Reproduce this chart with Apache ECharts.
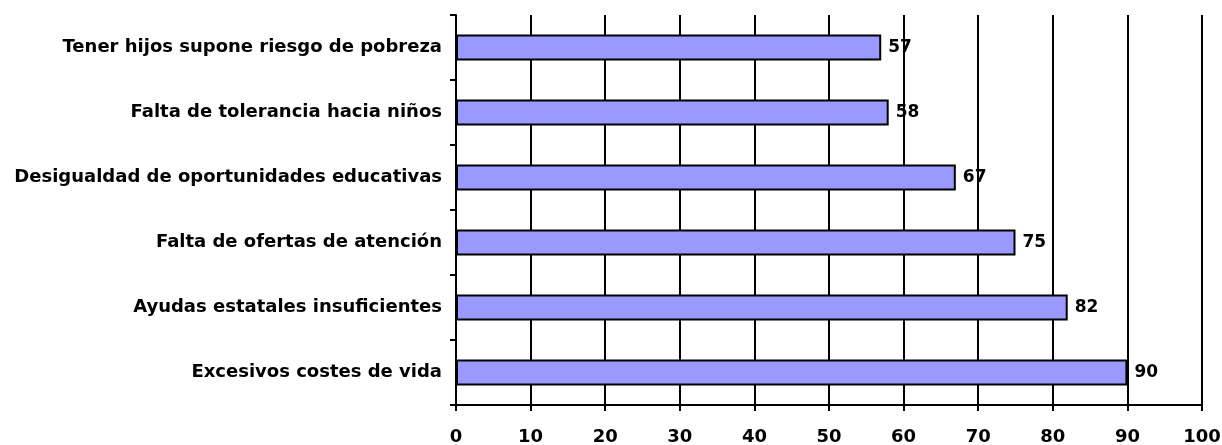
<!DOCTYPE html>
<html>
<head>
<meta charset="utf-8">
<script src="https://cdn.jsdelivr.net/npm/echarts@6/dist/echarts.min.js"></script>
<style>
    html, body { margin: 0; padding: 0; background: #fff; }
    .chart { width: 1222px; height: 445px; }
</style>
</head>
<body>
<div class="chart"></div>
<script>
var categories = ['Excesivos costes de vida', 'Ayudas estatales insuficientes', 'Falta de ofertas de atención',
    'Desigualdad de oportunidades educativas', 'Falta de tolerancia hacia niños', 'Tener hijos supone riesgo de pobreza'];
var values = [90, 82, 75, 67, 58, 57];
var xTicks = { min: 0, max: 100, interval: 10 };

(function () {
    var myChart = echarts.init(document.querySelector('.chart'));
    var font = '"DejaVu Sans", sans-serif';
    var option = {
        animation: false,
        grid: {
            left: 456,
            right: 20,
            top: 15,
            bottom: 40,
            outerBoundsMode: 'none'
        },
        xAxis: {
            type: 'value',
            min: xTicks.min,
            max: xTicks.max,
            interval: xTicks.interval,
            axisLine: {
                show: true,
                lineStyle: { color: '#000', width: 2 }
            },
            axisTick: {
                show: true,
                length: 6,
                lineStyle: { color: '#000', width: 2 }
            },
            axisLabel: {
                color: '#000',
                fontWeight: 'bold',
                fontSize: 18,
                fontFamily: font,
                margin: 23
            },
            splitLine: {
                show: true,
                lineStyle: { color: '#000', width: 2 }
            }
        },
        yAxis: {
            type: 'category',
            data: categories,
            axisLine: {
                show: true,
                lineStyle: { color: '#000', width: 2 }
            },
            axisTick: {
                show: true,
                length: 6,
                lineStyle: { color: '#000', width: 2 }
            },
            axisLabel: {
                color: '#000',
                fontWeight: 'bold',
                fontSize: 18,
                fontFamily: font,
                margin: 14
            }
        },
        series: [
            {
                type: 'bar',
                data: values,
                barWidth: '40%',
                itemStyle: {
                    color: '#9999ff',
                    borderColor: '#000',
                    borderWidth: 2
                },
                label: {
                    show: true,
                    position: 'right',
                    distance: 7,
                    color: '#000',
                    fontWeight: 'bold',
                    fontSize: 17,
                    fontFamily: font
                }
            }
        ]
    };
    myChart.setOption(option);
})();
</script>
</body>
</html>
